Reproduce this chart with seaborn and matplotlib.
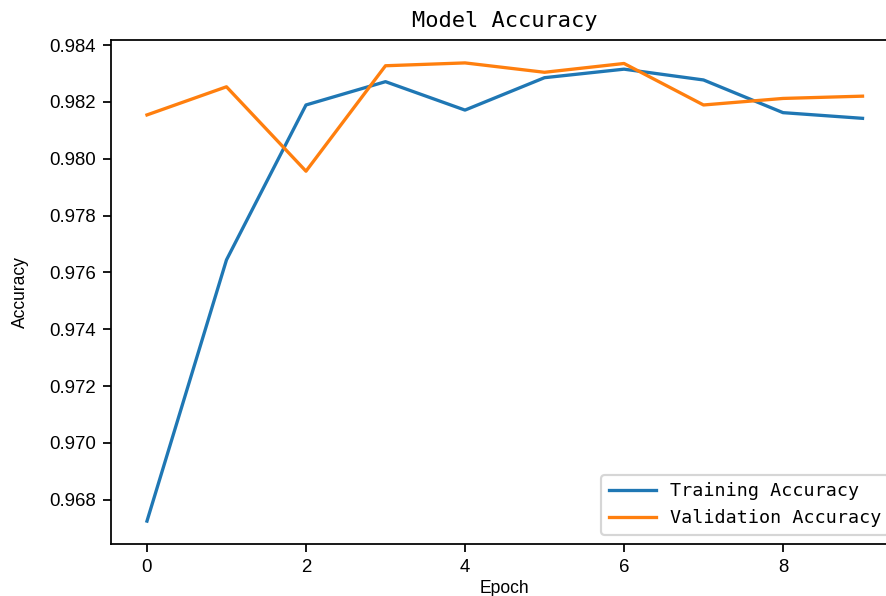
import matplotlib
matplotlib.use("Agg")
import matplotlib.pyplot as plt
import seaborn as sns
import pandas as pd

epochs = [0, 1, 2, 3, 4, 5, 6, 7, 8, 9]
train_acc = [0.96725, 0.97644, 0.98189, 0.98271, 0.98171, 0.98285, 0.98315, 0.98277, 0.98162, 0.98142]
val_acc = [0.98154, 0.98253, 0.97956, 0.98327, 0.98337, 0.98304, 0.98335, 0.98189, 0.98212, 0.98220]
series_names = ["Training Accuracy", "Validation Accuracy"]
colors = ["#1f77b4", "#ff7f0e"]

DPI = 158
fig = plt.figure(figsize=(886 / DPI, 596 / DPI), dpi=DPI)
ax = fig.add_axes([111.2 / 886, 52 / 596, 787.1 / 886, 504 / 596])

df = pd.DataFrame({
    "Epoch": epochs * 2,
    "Accuracy": train_acc + val_acc,
    "series": [series_names[0]] * len(epochs) + [series_names[1]] * len(epochs),
})

sns.lineplot(data=df, x="Epoch", y="Accuracy", hue="series", palette=colors,
             hue_order=series_names, linewidth=1.5, ax=ax)

ax.set_xlim(-0.45, 9.45)
ax.set_yticks([0.968, 0.970, 0.972, 0.974, 0.976, 0.978, 0.980, 0.982, 0.984])
ax.yaxis.set_major_formatter(matplotlib.ticker.FormatStrFormatter("%.3f"))
ax.set_xticks([0, 2, 4, 6, 8])

ax.set_title("Model Accuracy", fontsize=10, family="DejaVu Sans Mono")
ax.set_xlabel("Epoch", fontsize=8, family="Liberation Sans", labelpad=1.5)
ax.set_ylabel("Accuracy", fontsize=8, family="Liberation Sans", labelpad=9)
for lab in ax.get_xticklabels() + ax.get_yticklabels():
    lab.set_family("Liberation Sans")
    lab.set_fontsize(8.5)

leg = ax.legend(loc="lower right", title=None, handlelength=2.55,
                prop={"family": "DejaVu Sans Mono", "size": 8.4})

fig.savefig("out.png", dpi=DPI)
